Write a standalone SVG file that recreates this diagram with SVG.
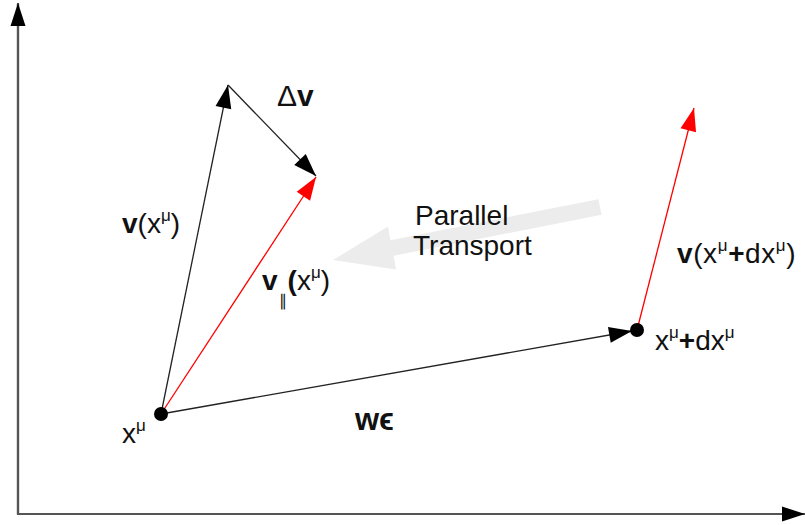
<svg xmlns="http://www.w3.org/2000/svg" width="805" height="525" viewBox="0 0 805 525">
  <style>
    text { font-family: "Liberation Sans", Arial, sans-serif; font-size: 28px; fill: #111; }
    .b { font-weight: bold; }
    .sup { font-size: 17px; }
    .axis { stroke: #555; stroke-width: 2.2; fill: none; }
    .vec { stroke: #222; stroke-width: 1.3; fill: none; }
    .red { stroke: #ff0000; stroke-width: 1.3; fill: none; }
  </style>
  <defs>
    <marker id="ahBlack" markerUnits="userSpaceOnUse" markerWidth="26" markerHeight="20" viewBox="-24 -10 26 20" refX="0" refY="0" orient="auto">
      <path d="M0,0 L-23,-8 L-23,8 Z" fill="#000"/>
    </marker>
    <marker id="ahRed" markerUnits="userSpaceOnUse" markerWidth="26" markerHeight="20" viewBox="-24 -10 26 20" refX="0" refY="0" orient="auto">
      <path d="M0,0 L-23,-8 L-23,8 Z" fill="#ff0000"/>
    </marker>
    <marker id="ahAxis" markerUnits="userSpaceOnUse" markerWidth="26" markerHeight="20" viewBox="-24 -10 26 20" refX="0" refY="0" orient="auto">
      <path d="M0,0 L-23,-7.5 L-23,7.5 Z" fill="#000"/>
    </marker>
  </defs>

  <rect width="805" height="525" fill="#ffffff"/>

  <g id="axes">
    <polyline class="axis" points="18,4 18,514 804,514"/>
    <line class="axis" x1="18" y1="514" x2="18" y2="3" marker-end="url(#ahAxis)"/>
    <line class="axis" x1="17" y1="514" x2="805" y2="514" marker-end="url(#ahAxis)"/>
  </g>

  <g id="parallel-transport">
    <polygon points="598.4,199.2 390.4,240.2 388,226.4 333,260 396,269.6 393.6,255.8 601.6,214.8" fill="#ececec"/>
    <text x="415" y="225">Parallel</text>
    <text x="413" y="255">Transport</text>
  </g>

  <g id="connectors">
    <line id="v" class="vec" x1="161" y1="414" x2="228" y2="85" marker-end="url(#ahBlack)"/>
    <line id="dv" class="vec" x1="228" y1="85" x2="316" y2="176" marker-end="url(#ahBlack)"/>
    <line id="vpar" class="red" x1="161" y1="414" x2="316" y2="177" marker-end="url(#ahRed)"/>
    <line id="weps" class="vec" x1="161" y1="414" x2="632" y2="331" marker-end="url(#ahBlack)"/>
    <line id="vdx" class="red" x1="637" y1="330" x2="694" y2="108" marker-end="url(#ahRed)"/>
  </g>

  <g id="node-x">
    <circle cx="161" cy="414" r="7" fill="#000"/>
    <text x="122" y="443">x<tspan class="sup" dy="-12">μ</tspan></text>
  </g>

  <g id="node-xdx">
    <circle cx="637" cy="330" r="7" fill="#000"/>
    <text x="655" y="350">x<tspan class="sup" dy="-12">μ</tspan><tspan class="b" dy="12">+</tspan>dx<tspan class="sup" dy="-12">μ</tspan></text>
  </g>

  <g id="labels">
    <text x="277" y="106" style="font-size:30px">Δ<tspan class="b">v</tspan></text>
    <text x="122" y="233"><tspan class="b">v</tspan>(x<tspan class="sup" dy="-12">μ</tspan><tspan dy="12">)</tspan></text>
    <text x="262" y="290"><tspan class="b">v</tspan><tspan style="font-size:16px" dx="1" dy="16">∥</tspan><tspan class="b" dx="1" dy="-16">(</tspan>x<tspan class="sup" dy="-12">μ</tspan><tspan dy="12">)</tspan></text>
    <text x="677" y="263" letter-spacing="0.6"><tspan class="b">v</tspan>(x<tspan class="sup" dy="-12">μ</tspan><tspan class="b" dy="12">+</tspan>dx<tspan class="sup" dy="-12">μ</tspan><tspan dy="12">)</tspan></text>
    <text x="355" y="430" class="b" style="font-size:31px">wϵ</text>
  </g>
</svg>
